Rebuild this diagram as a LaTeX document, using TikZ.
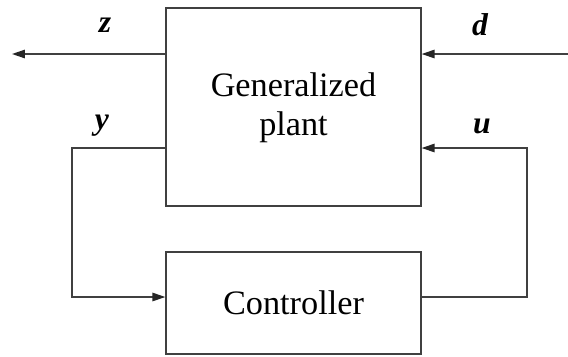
\documentclass[tikz,border=0pt]{standalone}
\usepackage{fontspec}
\setmainfont{Liberation Serif}
\usetikzlibrary{arrows.meta}

\tikzset{
  block/.style={draw=black!75, line width=0.8pt, inner sep=0pt, align=center,
    minimum width=5.1cm, font=\fontsize{19.5}{27}\selectfont},
  sig/.style={draw=black!75, line width=0.8pt,
    -{Triangle[length=0.26cm, width=0.17cm, black!85]}},
  lab/.style={font=\fontsize{18}{20}\selectfont\bfseries\itshape}
}

\begin{document}
\begin{tikzpicture}[x=0.02cm, y=-0.02cm]

\useasboundingbox (0,0) rectangle (568,356);

\node[block, minimum height=3.96cm] (plant) at (293.5,107) {};
\node[font=\fontsize{19.5}{27}\selectfont, align=center] (plantlab) at (293.5,108) {Generalized\\[-5pt]plant};
\node[block, minimum height=2.04cm] (ctrl) at (293.5,303) {Controller};

\coordinate (zend) at (12,54);
\coordinate (dstart) at (568,54);
\coordinate (ytop) at (72,148);
\coordinate (ybot) at (72,297);
\coordinate (utop) at (527,148);
\coordinate (ubot) at (527,297);

\draw[sig] (zend -| plant.west) -- (zend);
\draw[sig] (dstart) -- (dstart -| plant.east);
\draw[sig] (ytop -| plant.west) -- (ytop) -- (ybot) -- (ybot -| ctrl.west);
\draw[sig] (ubot -| ctrl.east) -- (ubot) -- (utop) -- (utop -| plant.east);

\node[lab] (zlab) at (105,25) {z};
\node[lab] (dlab) at (480,25) {d};
\node[lab] (ylab) at (102,126) {y};
\node[lab] (ulab) at (482,126) {u};

\end{tikzpicture}
\end{document}
